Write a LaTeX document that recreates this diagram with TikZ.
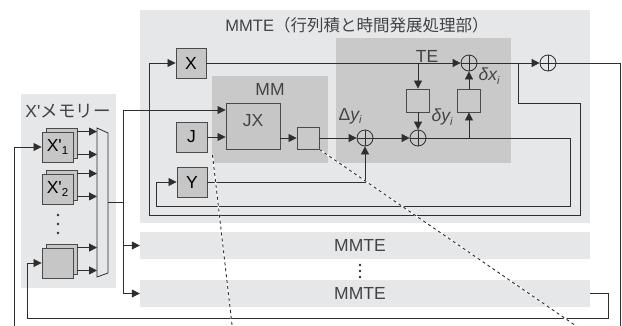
\documentclass[tikz,border=0pt]{standalone}
\usepackage{fontspec}
\newfontfamily\jp{Noto Sans CJK JP}
\newfontfamily\lat{Liberation Sans}
\usetikzlibrary{arrows.meta}
\definecolor{bgA}{HTML}{E6E7E9}
\definecolor{bgB}{HTML}{C9C9CA}
\definecolor{boxF}{HTML}{C6C6C7}
\definecolor{ln}{HTML}{2E2E2E}
\definecolor{bd}{HTML}{4A4A4A}
\newcommand\subi{\raisebox{-3.5pt}{\fontsize{11}{11}\selectfont\lat\itshape i}}
\newcommand\subn[1]{\raisebox{-3.5pt}{\fontsize{11.5}{11.5}\selectfont\lat #1}}
\begin{document}
\begin{tikzpicture}[x=1pt,y=-1pt,
  font=\lat\fontsize{17.5}{19}\selectfont,
  >={Triangle[length=8pt,width=8pt]},
  region/.style={fill=#1, draw=none, inner sep=0},
  blk/.style={draw=bd, fill=boxF, line width=0.9pt, inner sep=0},
  sbox/.style={draw=bd, fill=bgB, line width=0.9pt, inner sep=0, minimum size=23pt},
  wire/.style={draw=ln, line width=0.8pt},
  oplus/.style={circle, draw=ln, line width=0.8pt, minimum size=16pt, inner sep=0,
    path picture={\draw[ln, line width=0.8pt] (path picture bounding box.north) -- (path picture bounding box.south)
      (path picture bounding box.west) -- (path picture bounding box.east);}},
  lbl/.style={inner sep=0, text=ln!90}
]
\useasboundingbox (0,0) rectangle (622,325);
\fill[white] (0,0) rectangle (622,325);

% regions
\node[region=bgA, minimum width=450pt, minimum height=213pt] (mmte1) at (365,116.5) {};
\node[region=bgB, minimum width=116pt, minimum height=87pt] (mm) at (270,119.5) {};
\node[region=bgB, minimum width=175pt, minimum height=125pt] (te) at (423.5,100.5) {};
\node[region=bgA, minimum width=450pt, minimum height=27pt] (mm2) at (365,245.5) {};
\node[region=bgA, minimum width=450pt, minimum height=27pt] (mm3) at (365,293.5) {};
\node[region=bgA, minimum width=95pt, minimum height=194pt] (xmem) at (68.5,191) {};

% titles
\node[lbl, font=\lat\fontsize{16.5}{18}\selectfont] (t1) at (357,25) {MMTE{\jp （行列積と時間発展処理部）}};
\node[lbl] (tmm) at (270,89) {MM};
\node[lbl] (tte) at (427,56) {TE};
\node[lbl] (t2) at (360,245.5) {MMTE};
\node[lbl] (t3) at (360,293.5) {MMTE};
\node[lbl] (txm) at (68,111) {X'{\jp メモリー}};
\foreach \yy in {265,271,277} \fill[ln] (360,\yy) circle (1.4pt);
\foreach \yy in {215,224,233} \fill[ln] (58,\yy) circle (1.4pt);

% boxes
\node[blk, minimum width=30pt, minimum height=30pt] (X) at (191,63) {X};
\node[blk, minimum width=31pt, minimum height=30pt] (J) at (191.5,137) {J};
\node[blk, minimum width=30pt, minimum height=30pt] (Y) at (192,182) {Y};
\node[blk, minimum width=54pt, minimum height=46pt] (JX) at (253,126) {};
\node[lbl] (JXt) at (253,121) {JX};
\node[sbox, minimum size=22pt] (sb) at (308,138) {};
\node[sbox] (dyb) at (418,100.5) {};
\node[sbox] (dxb) at (469,100.5) {};

\node[oplus] (ady) at (365,138) {};
\node[oplus] (ady2) at (418,138) {};
\node[oplus] (ax) at (469,63) {};
\node[oplus] (ax2) at (548,63) {};

\node[lbl] (lDy) at (350,116) {Δ{\itshape y}\subi};
\node[lbl] (ldy) at (442,117) {{\itshape δy}\subi};
\node[lbl] (ldx) at (489,76) {{\itshape δx}\subi};

% memory blocks
\node[blk, minimum width=31pt, minimum height=30pt] (m1b) at (61.5,143) {};
\node[blk, minimum width=31pt, minimum height=30pt] (m1f) at (57.5,147) {X'\subn{1}};
\node[blk, minimum width=31pt, minimum height=30pt] (m2b) at (61.5,185) {};
\node[blk, minimum width=31pt, minimum height=30pt] (m2f) at (57.5,189) {X'\subn{2}};
\node[blk, minimum width=31pt, minimum height=30pt] (m3b) at (61.5,259) {};
\node[blk, minimum width=31pt, minimum height=30pt] (m3f) at (57.5,263) {};

% mux
\draw[wire, fill=bgA] (97,128) -- (108,133) -- (108,273) -- (97,277) -- cycle;
\coordinate (muxL) at (97,0);
\coordinate (muxo) at (108,202);
\foreach \m in {m1b,m2b,m3b}{
  \draw[wire,->] ([yshift=-4pt]\m.north east) -- ([yshift=-4pt]\m.north east -| muxL);
  \draw[wire,->] ([yshift=4pt]\m.south east) -- ([yshift=4pt]\m.south east -| muxL);
}

% bus
\coordinate (busT) at (123,110);
\coordinate (busB) at (123,293.5);
\draw[wire] (muxo) -| (busT);
\draw[wire,->] (busT) -- (JX.west |- busT);
\draw[wire] (busT) -- (busB);
\draw[wire,->] (busB) -- (mm3.west);
\draw[wire,->] (mm2.west -| busT) -- (mm2.west);

% MM / TE wiring
\draw[wire,->] (J.east) -- (J.east -| JX.west);
\draw[wire,->] (JX.east |- sb.west) -- (sb.west);
\draw[wire,->] (sb.east) -- (ady.west);
\draw[wire,->] (ady.east) -- (ady2.west);
\coordinate (yl1) at (570,206);
\draw[wire,->] (ady2.east) -| (yl1) -| ([xshift=-20pt]Y.west) -- (Y.west);
\draw[wire,->] (dxb.south |- ady2.east) -- (dxb.south);
\draw[wire,->] (dxb.north) -- (ax.south);
\draw[wire,->] (X.east) -- (ax.west);
\draw[wire,->] (dyb.north |- X.east) -- (dyb.north);
\draw[wire,->] (dyb.south) -- (ady2.north);
\draw[wire,->] (Y.east) -| (ady.south);
\draw[wire,->] (ax.east) -- (ax2.west);
\coordinate (xl1) at (518,103);
\coordinate (xl2) at (580,215);
\draw[wire,->] (ax.east -| xl1) -- (xl1) -| (xl2) -| ([xshift=-26pt]X.west) -- (X.west);

% outputs back to memory
\coordinate (o1) at (620,332);
\draw[wire,->] (ax2.east) -| (o1) -| ([xshift=-27pt]m1f.west) -- (m1f.west);
\coordinate (o3) at (608,318);
\draw[wire,->] (mm3.east) -| (o3) -| ([xshift=-14pt]m3f.west) -- (m3f.west);

% zoom guide lines
\coordinate (g1a) at (212.5,155);
\coordinate (g1b) at (232.6,330);
\coordinate (g2b) at (582,330);
\draw[white, line width=1.4pt] (g1a) -- (g1b);
\draw[ln, line width=0.9pt, dash pattern=on 3pt off 3pt] (g1a) -- (g1b);
\draw[white, line width=1.4pt] (sb.south east) -- (g2b);
\draw[ln, line width=0.9pt, dash pattern=on 3pt off 3pt] (sb.south east) -- (g2b);
\end{tikzpicture}
\end{document}
